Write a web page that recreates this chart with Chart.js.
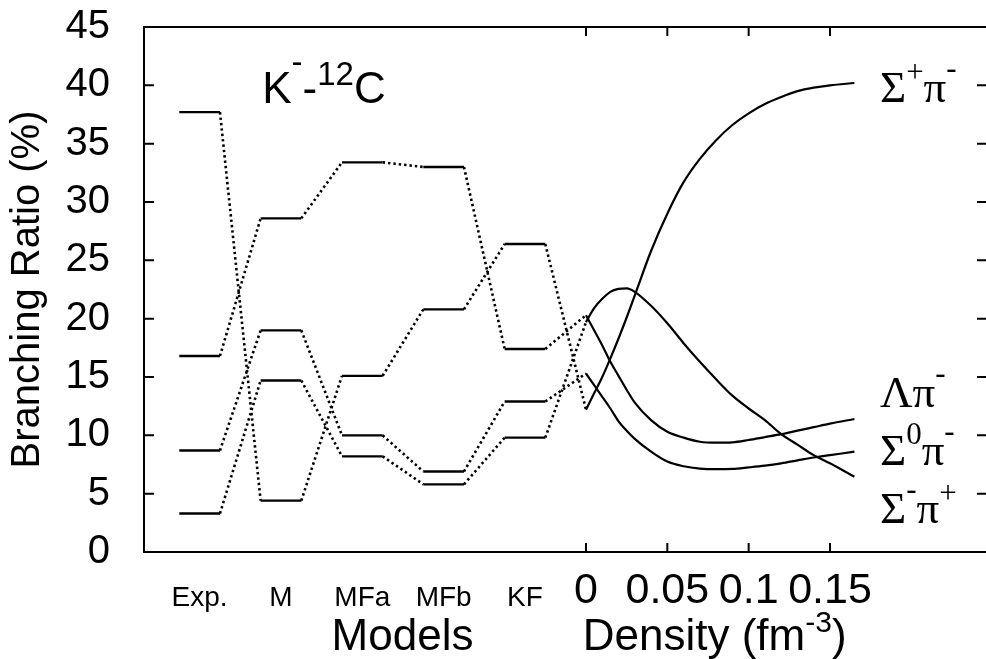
<!DOCTYPE html>
<html>
<head>
<meta charset="utf-8">
<script src="https://cdn.jsdelivr.net/npm/chart.js@4.4.0/dist/chart.umd.min.js"></script>
<style>
  html, body { margin: 0; padding: 0; background: #fff; }
</style>
</head>
<body>
<canvas id="br" width="986" height="659"></canvas>
<script>
// ---------- données ----------
const modelLabels = ["Exp.", "M", "MFa", "MFb", "KF"];
const levelFrom = [-0.25, -0.2, -0.15, -0.1, -0.05];
const levelTo = [-0.225, -0.175, -0.125, -0.075, -0.025];

// rapports d'embranchement (%) par modèle
const spModels = [37.7, 4.4, 15.1, 20.8, 26.4];   // Σ+π-
const lpModels = [16.8, 28.6, 33.4, 33.0, 17.4];  // Λπ-
const s0Models = [8.7, 19.0, 10.0, 6.9, 12.9];    // Σ0π-
const smModels = [3.3, 14.7, 8.2, 5.8, 9.8];      // Σ-π+

// en fonction de la densité (fm^-3)
const density = [0, 0.005, 0.01, 0.015, 0.02, 0.025, 0.03, 0.04, 0.05, 0.06,
                 0.07, 0.08, 0.09, 0.10, 0.11, 0.12, 0.13, 0.14, 0.15, 0.165];
const spDens = [12.2, 13.6, 15.0, 16.6, 18.3, 20.1, 22.0, 25.8, 29.0, 31.7,
                33.7, 35.3, 36.6, 37.6, 38.4, 39.0, 39.5, 39.8, 40.0, 40.2];
const lpDens = [20.3, 19.0, 17.7, 16.3, 15.1, 13.9, 12.8, 11.3, 10.3, 9.8,
                9.45, 9.37, 9.4, 9.6, 9.85, 10.1, 10.4, 10.7, 11.0, 11.4];
const s0Dens = [15.3, 14.3, 13.3, 12.3, 11.2, 10.4, 9.7, 8.6, 7.75, 7.35,
                7.15, 7.1, 7.12, 7.25, 7.4, 7.6, 7.85, 8.1, 8.3, 8.6];
const smDens = [19.7, 20.9, 21.7, 22.3, 22.55, 22.6, 22.3, 21.1, 19.6, 17.9,
                16.3, 14.8, 13.4, 12.3, 11.3, 10.1, 9.2, 8.3, 7.6, 6.45];

const yTicks = [0, 5, 10, 15, 20, 25, 30, 35, 40, 45];
const densityTicks = [0, 0.05, 0.1, 0.15];
const densityTickText = ["0", "0.05", "0.1", "0.15"];

// ---------- helpers ----------
const SANS = "'Liberation Sans', Arial, sans-serif";
const SERIF = "'Liberation Serif', 'Times New Roman', serif";
const modelCentres = levelFrom.map((a, i) => (a + levelTo[i]) / 2);

function levelPoints(vals, start) {
  const pts = [];
  vals.forEach((v, i) => pts.push({ x: levelFrom[i], y: v }, { x: levelTo[i], y: v }));
  pts.push({ x: density[0], y: start });
  return pts;
}
const curvePoints = (vals) => density.map((d, i) => ({ x: d, y: vals[i] }));

const isDensityTick = (v) => densityTicks.some((t) => Math.abs(t - v) < 1e-6);
function tickText(v) {
  const di = densityTicks.findIndex((t) => Math.abs(t - v) < 1e-6);
  if (di >= 0) return densityTickText[di];
  const mi = modelCentres.findIndex((t) => Math.abs(t - v) < 1e-6);
  return mi >= 0 ? modelLabels[mi] : "";
}

// paliers pleins, liaisons pointillées entre modèles
const levelSet = (vals, start) => ({
  data: levelPoints(vals, start),
  borderColor: "#000",
  borderWidth: 2.3,
  pointRadius: 0,
  tension: 0,
  segment: {
    borderDash: (c) => (c.p0DataIndex % 2 === 1 ? [2.4, 3] : undefined),
    borderWidth: (c) => (c.p0DataIndex % 2 === 1 ? 2.6 : 2.3),
  },
});
const curveSet = (vals) => ({
  data: curvePoints(vals),
  borderColor: "#000",
  borderWidth: 2.2,
  pointRadius: 0,
  cubicInterpolationMode: "monotone",
});

// texte avec exposants
function drawRich(ctx, x, y, parts, size, supSize, family) {
  let cx = x;
  parts.forEach((p) => {
    ctx.font = (p.rise ? supSize : size) + "px " + family;
    ctx.fillText(p.t, cx, y - (p.rise || 0));
    cx += ctx.measureText(p.t).width;
  });
}
function richWidth(ctx, parts, size, supSize, family) {
  let w = 0;
  parts.forEach((p) => {
    ctx.font = (p.rise ? supSize : size) + "px " + family;
    w += ctx.measureText(p.t).width;
  });
  return w;
}

// ---------- cadre et graduations intérieures ----------
const framePlugin = {
  id: "frame",
  afterDraw(chart) {
    const { ctx, chartArea: a, scales } = chart;
    ctx.save();
    ctx.strokeStyle = "#000";
    ctx.lineWidth = 2;
    ctx.beginPath();
    ctx.moveTo(a.left - 1, a.top);
    ctx.lineTo(a.right, a.top);
    yTicks.forEach((v) => {
      if (v === 0 || v === 45) return;
      const y = scales.y.getPixelForValue(v);
      ctx.moveTo(a.left, y); ctx.lineTo(a.left + 10, y);
      ctx.moveTo(a.right - 9, y); ctx.lineTo(a.right, y);
    });
    densityTicks.forEach((d) => {
      const x = scales.x.getPixelForValue(d);
      ctx.moveTo(x, a.bottom); ctx.lineTo(x, a.bottom - 9);
      ctx.moveTo(x, a.top); ctx.lineTo(x, a.top + 9);
    });
    ctx.stroke();
    ctx.restore();
  },
};

// ---------- annotations ----------
const textPlugin = {
  id: "texts",
  afterDraw(chart) {
    const { ctx, chartArea: a, scales } = chart;
    const sx = scales.x, sy = scales.y;
    ctx.save();
    ctx.fillStyle = "#000";
    ctx.textAlign = "left";
    ctx.textBaseline = "alphabetic";

    // K- - 12C
    drawRich(ctx, sx.getPixelForValue(-0.199), sy.getPixelForValue(38.5), [
      { t: "K" }, { t: "-", rise: 30 }, { t: "-" }, { t: "12", rise: 18 }, { t: "C" },
    ], 44, 33, SANS);

    // noms des voies
    const lx = sx.getPixelForValue(0.1807);
    drawRich(ctx, lx, sy.getPixelForValue(38.6),
      [{ t: "Σ" }, { t: "+", rise: 20 }, { t: "π" }, { t: "-", rise: 24 }], 45, 31, SERIF);
    drawRich(ctx, lx, sy.getPixelForValue(12.4),
      [{ t: "Λ" }, { t: "π" }, { t: "-", rise: 24 }], 45, 31, SERIF);
    drawRich(ctx, lx, sy.getPixelForValue(7.45),
      [{ t: "Σ" }, { t: "0", rise: 21 }, { t: "π" }, { t: "-", rise: 24 }], 45, 31, SERIF);
    drawRich(ctx, lx, sy.getPixelForValue(2.5),
      [{ t: "Σ" }, { t: "-", rise: 24 }, { t: "π" }, { t: "+", rise: 20 }], 45, 31, SERIF);

    // titres de l'axe horizontal
    const base = a.bottom + 98;
    const models = [{ t: "Models" }];
    const mw = richWidth(ctx, models, 44, 30, SANS);
    drawRich(ctx, sx.getPixelForValue(-0.1128) - mw / 2, base, models, 44, 30, SANS);
    drawRich(ctx, sx.getPixelForValue(-0.002), base,
      [{ t: "Density (fm" }, { t: "-3", rise: 18 }, { t: ")" }], 44, 30, SANS);
    ctx.restore();
  },
};

new Chart(document.getElementById("br"), {
  type: "line",
  data: {
    datasets: [
      levelSet(spModels, spDens[0]),
      levelSet(lpModels, lpDens[0]),
      levelSet(s0Models, s0Dens[0]),
      levelSet(smModels, smDens[0]),
      curveSet(spDens),
      curveSet(lpDens),
      curveSet(s0Dens),
      curveSet(smDens),
    ],
  },
  options: {
    responsive: false,
    animation: false,
    layout: { padding: { top: 27, left: 0, right: 0, bottom: 0 } },
    plugins: { legend: { display: false }, tooltip: { enabled: false } },
    scales: {
      x: {
        type: "linear",
        min: -0.2717,
        max: 0.2459,
        afterBuildTicks: (s) => {
          s.ticks = [...modelCentres, ...densityTicks].map((v) => ({ value: v }));
        },
        afterFit: (s) => {
          s.height = 107;
          s.paddingLeft = 0;
          s.paddingRight = 0;
        },
        grid: { display: false, drawTicks: false },
        border: { display: true, color: "#000", width: 2 },
        ticks: {
          autoSkip: false,
          maxRotation: 0,
          minRotation: 0,
          padding: 0,
          color: "#000",
          callback: (v) => tickText(v),
          font: (c) => (c.tick && !isDensityTick(c.tick.value)
            ? { family: SANS, size: 28, lineHeight: "92px" }
            : { family: SANS, size: 43, lineHeight: "78px" }),
        },
      },
      y: {
        min: 0,
        max: 45,
        afterBuildTicks: (s) => { s.ticks = yTicks.map((v) => ({ value: v })); },
        afterFit: (s) => {
          s.width = 144;
          s.paddingTop = 0;
          s.paddingBottom = 0;
        },
        grid: { display: false, drawTicks: false },
        border: { display: true, color: "#000", width: 2 },
        ticks: { padding: 34, color: "#000", font: { family: SANS, size: 40 } },
        title: {
          display: true,
          text: "Branching Ratio (%)",
          color: "#000",
          font: { family: SANS, size: 40 },
          padding: { top: 4, bottom: 0 },
        },
      },
    },
  },
  plugins: [framePlugin, textPlugin],
});
</script>
</body>
</html>
